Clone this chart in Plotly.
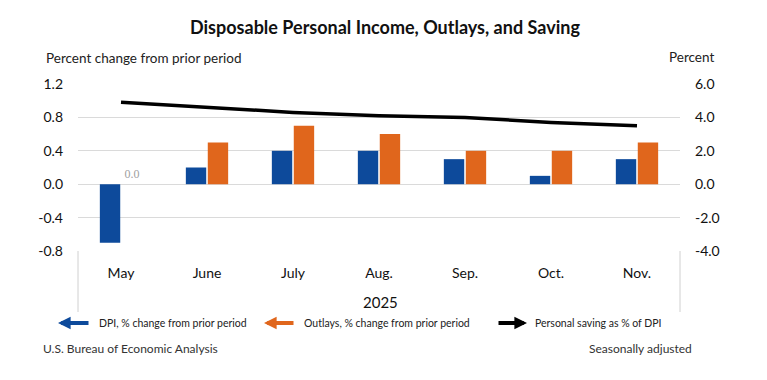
import plotly.graph_objects as go

months = ["May", "June", "July", "Aug.", "Sep.", "Oct.", "Nov."]
dpi = [-0.7, 0.2, 0.4, 0.4, 0.3, 0.1, 0.3]
outlays = [0.0, 0.5, 0.7, 0.6, 0.4, 0.4, 0.5]
saving = [4.9, 4.6, 4.3, 4.1, 4.0, 3.7, 3.5]
outlay_labels = ["0.0", "", "", "", "", "", ""]

left_ticks = [-0.8, -0.4, 0.0, 0.4, 0.8, 1.2]
left_tick_text = ["-0.8", "-0.4", "0.0", "0.4", "0.8", "1.2"]
right_ticks = [-4.0, -2.0, 0.0, 2.0, 4.0, 6.0]
right_tick_text = ["-4.0", "-2.0", "0.0", "2.0", "4.0", "6.0"]

BLUE = "#0D4A9B"
ORANGE = "#E0661C"
FONT = "Lato"
OFF = 8  # page body margin
W, H = 767 - OFF, 380 - OFF
# target page coordinates of the plot area
L, R, T, B = 78, 680, 84, 251


def px(x):
    return (x - L) / (R - L)


def py(y):
    return (B - y) / (B - T)


fig = go.Figure()
fig.add_trace(go.Bar(x=months, y=dpi, name="DPI, % change from prior period",
                     marker=dict(color=BLUE, line=dict(width=0))))
fig.add_trace(go.Bar(x=months, y=outlays, name="Outlays, % change from prior period",
                     marker=dict(color=ORANGE, line=dict(width=0)),
                     text=outlay_labels, textposition="outside", cliponaxis=False,
                     textfont=dict(family="Liberation Serif, serif", size=12, color="#a0a0a0")))
fig.add_trace(go.Scatter(x=months, y=saving, name="Personal saving as % of DPI", yaxis="y2",
                         mode="lines", line=dict(color="black", width=3.5)))

annotations = [
    dict(text="<b>Disposable Personal Income, Outlays, and Saving</b>", x=px(385), xref="paper",
         y=py(27), yref="paper", showarrow=False, xanchor="center", yanchor="middle",
         font=dict(family=FONT, size=18, color="#111")),
    dict(text="Percent change from prior period", x=px(44), xref="paper", y=py(58), yref="paper",
         showarrow=False, xanchor="left", yanchor="middle", font=dict(family=FONT, size=13.5, color="#222")),
    dict(text="Percent", x=px(716), xref="paper", y=py(57), yref="paper",
         showarrow=False, xanchor="right", yanchor="middle", font=dict(family=FONT, size=13.5, color="#222")),
    dict(text="2025", x=px(380), xref="paper", y=py(302), yref="paper",
         showarrow=False, xanchor="center", yanchor="middle", font=dict(family=FONT, size=15, color="#111")),
    dict(text="U.S. Bureau of Economic Analysis", x=px(41), xref="paper", y=py(348), yref="paper",
         showarrow=False, xanchor="left", yanchor="middle", font=dict(family=FONT, size=12, color="#333")),
    dict(text="Seasonally adjusted", x=px(694), xref="paper", y=py(348), yref="paper",
         showarrow=False, xanchor="right", yanchor="middle", font=dict(family=FONT, size=12, color="#333")),
]

legend_items = [
    (58, 90, BLUE, 97, "DPI, % change from prior period"),
    (264, 295, ORANGE, 302, "Outlays, % change from prior period"),
    (527, 497, "black", 533, "Personal saving as % of DPI"),
]
for tip, tail, col, tx, label in legend_items:
    annotations.append(dict(x=px(tip), y=py(323), xref="paper", yref="paper", text="",
                            showarrow=True, ax=tail - tip, ay=0, axref="pixel", ayref="pixel",
                            arrowhead=2, arrowsize=0.6, arrowwidth=4.2, arrowcolor=col, standoff=0))
    annotations.append(dict(text=label, x=px(tx), y=py(323), xref="paper", yref="paper",
                            showarrow=False, xanchor="left", yanchor="middle",
                            font=dict(family=FONT, size=10.5, color="#222")))

shapes = [
    dict(type="line", xref="paper", yref="paper", x0=0, x1=0, y0=0, y1=py(312),
         line=dict(color="#d0d0d0", width=1)),
    dict(type="line", xref="paper", yref="paper", x0=1, x1=1, y0=0, y1=py(312),
         line=dict(color="#d0d0d0", width=1)),
]

fig.update_layout(
    width=W, height=H,
    margin=dict(l=L - OFF, r=W - (R - OFF), t=T - OFF, b=H - (B - OFF), pad=0),
    paper_bgcolor="white", plot_bgcolor="white",
    barmode="group", bargap=0.49, bargroupgap=0.07,
    showlegend=False,
    font=dict(family=FONT, size=14, color="#111"),
    xaxis=dict(showgrid=False, showline=False, ticks="", tickfont=dict(size=14, color="#111"),
               ticklabelstandoff=12, fixedrange=True),
    yaxis=dict(range=[-0.8, 1.2], tickvals=left_ticks, ticktext=left_tick_text, showgrid=True,
               gridcolor="#dadada", gridwidth=1, zeroline=True, zerolinecolor="#dadada",
               zerolinewidth=1, ticklabelstandoff=14, tickfont=dict(size=14, color="#111"),
               showline=False, automargin=False),
    yaxis2=dict(range=[-4, 6], tickvals=right_ticks, ticktext=right_tick_text, overlaying="y",
                side="right", showgrid=False, zeroline=False, ticklabelstandoff=14,
                tickfont=dict(size=14, color="#111"), showline=False, automargin=False),
    annotations=annotations,
    shapes=shapes,
)

fig.write_html("out.html")
